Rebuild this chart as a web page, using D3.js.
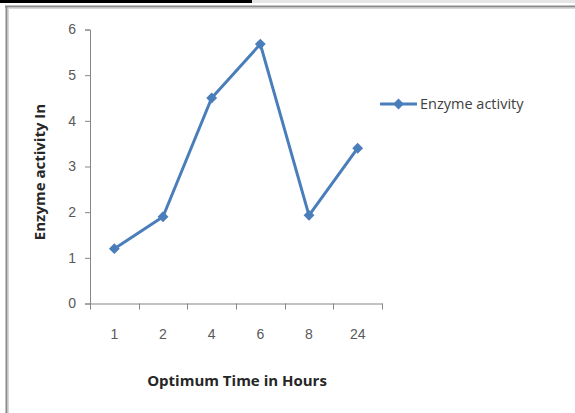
<!DOCTYPE html>
<html>
<head>
<meta charset="utf-8">
<script src="https://cdn.jsdelivr.net/npm/d3@7"></script>
<style>
  body { margin: 0; background: #fff; }
  svg { display: block; font-family: "Open Sans", "Noto Sans", sans-serif; }
</style>
</head>
<body>
<svg id="chart"></svg>
<script>
// data
var hours = ["1", "2", "4", "6", "8", "24"]
var activity = [1.2, 1.9, 4.5, 5.68, 1.93, 3.4]
var yTicks = [0, 1, 2, 3, 4, 5, 6]
var seriesName = "Enzyme activity"

var W = 575, H = 413
var plot = { left: 90, right: 382, top: 29.5, bottom: 303.5 }
var blue = "#4a7ebb"

var svg = d3.select("#chart").attr("width", W).attr("height", H)

// page frame bits around the chart
svg.append("rect").attr("x", 0).attr("y", 0).attr("width", 252).attr("height", 3).attr("fill", "#000")
svg.append("rect").attr("x", 252).attr("y", 0).attr("width", W - 252).attr("height", 3).attr("fill", "#e6e6e6")
svg.append("line").attr("x1", 5).attr("x2", W).attr("y1", 6.5).attr("y2", 6.5)
  .attr("stroke", "#8a8a8a").attr("stroke-width", 2)
svg.append("line").attr("x1", 6.5).attr("x2", 6.5).attr("y1", 6).attr("y2", H)
  .attr("stroke", "#8a8a8a").attr("stroke-width", 2)
svg.append("line").attr("x1", 8.5).attr("x2", 8.5).attr("y1", 8).attr("y2", H)
  .attr("stroke", "#d8d8d8").attr("stroke-width", 1)
svg.append("line").attr("x1", 8).attr("x2", W).attr("y1", 8.5).attr("y2", 8.5)
  .attr("stroke", "#d8d8d8").attr("stroke-width", 1)

var xScale = d3.scaleBand().domain(hours).range([plot.left, plot.right])
var yScale = d3.scaleLinear().domain([0, 6]).range([plot.bottom, plot.top])

// y axis
var yAxis = svg.append("g")
  .attr("transform", "translate(" + plot.left + ",0)")
  .call(d3.axisLeft(yScale).tickValues(yTicks).tickFormat(d3.format("d")).tickSize(5).tickPadding(9))
yAxis.select(".domain").attr("stroke", "#868686")
yAxis.selectAll(".tick line").attr("stroke", "#868686")
yAxis.selectAll(".tick text").attr("fill", "#595959").style("font-size", "14px")

// x axis, ticks sit between categories like excel does
var xAxis = svg.append("g")
  .attr("transform", "translate(0," + plot.bottom + ")")
  .call(d3.axisBottom(xScale).tickSize(0).tickPadding(26))
xAxis.select(".domain").attr("stroke", "#868686")
xAxis.selectAll(".tick text").attr("fill", "#595959").style("font-size", "14px")
var edges = hours.map(function(h) { return xScale(h) }).concat([plot.right])
xAxis.selectAll(".edge").data(edges).enter().append("line")
  .attr("x1", function(d) { return Math.round(d) + 0.5 })
  .attr("x2", function(d) { return Math.round(d) + 0.5 })
  .attr("y1", 0).attr("y2", 6)
  .attr("stroke", "#868686")

// axis titles
svg.append("text")
  .attr("x", (plot.left + plot.right) / 2 + 1).attr("y", 386)
  .attr("text-anchor", "middle")
  .attr("fill", "#262626").style("font-size", "15px").style("font-weight", "bold")
  .text("Optimum Time in Hours")
svg.append("text")
  .attr("transform", "translate(45,172) rotate(-90)")
  .attr("text-anchor", "middle")
  .attr("fill", "#262626").style("font-size", "15px").style("font-weight", "bold")
  .text("Enzyme activity In")

// series line and diamond markers
var cx = function(d, i) { return xScale(hours[i]) + xScale.bandwidth() / 2 }
var line = d3.line().x(cx).y(function(d) { return yScale(d) })
svg.append("path").datum(activity)
  .attr("d", line).attr("fill", "none")
  .attr("stroke", blue).attr("stroke-width", 3).attr("stroke-linejoin", "round")

var diamond = d3.symbol().type(d3.symbolDiamond2).size(75)
svg.selectAll(".pt").data(activity).enter().append("path")
  .attr("class", "pt")
  .attr("d", diamond)
  .attr("transform", function(d, i) { return "translate(" + cx(d, i) + "," + yScale(d) + ")" })
  .attr("fill", blue)

// legend
var lg = svg.append("g").attr("transform", "translate(380,104)")
lg.append("line").attr("x1", 0).attr("x2", 37).attr("y1", 0).attr("y2", 0)
  .attr("stroke", blue).attr("stroke-width", 3)
lg.append("path").attr("d", diamond).attr("transform", "translate(18.5,0)").attr("fill", blue)
lg.append("text").attr("x", 40).attr("y", 5)
  .attr("fill", "#404040").style("font-size", "14.5px")
  .text(seriesName)
</script>
</body>
</html>
